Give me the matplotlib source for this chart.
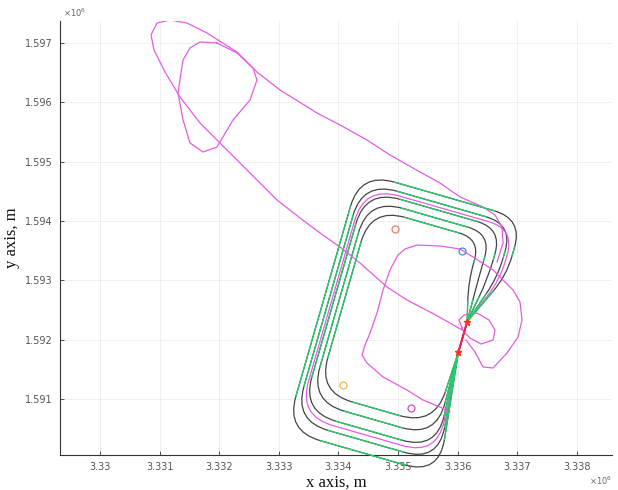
import numpy as np
import matplotlib
matplotlib.use('Agg')
import matplotlib.pyplot as plt
from matplotlib.path import Path
from matplotlib.patches import PathPatch

# ---------------- data (metres) ----------------
x_tick_values = [3330000, 3331000, 3332000, 3333000, 3334000, 3335000, 3336000, 3337000, 3338000]
x_tick_labels = ['3.33', '3.331', '3.332', '3.333', '3.334', '3.335', '3.336', '3.337', '3.338']
y_tick_values = [1591000, 1592000, 1593000, 1594000, 1595000, 1596000, 1597000]
y_tick_labels = ['1.591', '1.592', '1.593', '1.594', '1.595', '1.596', '1.597']

# gate (red segment) end points
gate_x = [3336161, 3336013]
gate_y = [1592305, 1591787]

# five nested holding loops: corner points (right-mid, top-right, top-left, bottom-left, bottom-right)
loop_rm_x = [3336819, 3336671, 3336508, 3336344, 3336180]
loop_rm_y = [1593080, 1593052, 1593029, 1593006, 1592983]
loop_tr_x = [3337092, 3336926, 3336748, 3336566, 3336384]
loop_tr_y = [1594036, 1593943, 1593872, 1593784, 1593696]
loop_tl_x = [3334367, 3334410, 3334459, 3334502, 3334546]
loop_tl_y = [1594822, 1594669, 1594533, 1594380, 1594227]
loop_bl_x = [3333121, 3333257, 3333389, 3333525, 3333657]
loop_bl_y = [1590464, 1590635, 1590790, 1590961, 1591116]
loop_br_x = [3335685, 3335676, 3335646, 3335637, 3335608]
loop_br_y = [1589724, 1589937, 1590138, 1590351, 1590553]

# magenta flown loop corners (same order)
track_loop_x = [3336710, 3336956, 3334440, 3333333, 3335655]
track_loop_y = [1593006, 1593865, 1594590, 1590718, 1590048]

# magenta track: long excursion to the north-west
track_a_x = [3336074, 3335873, 3335537, 3335151, 3334816, 3334363, 3334027, 3333692, 3333356,
             3332970, 3332685, 3332131, 3331678, 3331342, 3331091, 3330906, 3330856, 3330956,
             3331175, 3331460, 3331795, 3332299, 3332634, 3333020, 3333641, 3334027,
             3334480, 3334866, 3335370, 3335705, 3336041, 3336427, 3336628, 3336746, 3336763,
             3336662]
track_a_y = [1592163, 1592281, 1592467, 1592669, 1592888, 1593293, 1593563, 1593799, 1594052,
             1594355, 1594642, 1595198, 1595653, 1596092, 1596513, 1596884, 1597137, 1597339,
             1597390, 1597339, 1597171, 1596850, 1596513, 1596210, 1595822, 1595620,
             1595367, 1595114, 1594827, 1594642, 1594406, 1594237, 1594102, 1593900, 1593630,
             1593310]
# magenta track: inner tear-drop loop
track_b_x = [3331963, 3331678, 3331510, 3331393, 3331309, 3331393, 3331510, 3331728, 3331963,
             3332232, 3332517, 3332634, 3332567, 3332299, 3331963]
track_b_y = [1597002, 1597019, 1596918, 1596716, 1596159, 1595704, 1595316, 1595164, 1595249,
             1595704, 1596041, 1596378, 1596581, 1596834, 1597002]
# magenta track: inner rectangle and eastern bulge
track_c_x = [3335873, 3335705, 3335420, 3335151, 3334749, 3334480, 3334396, 3334447, 3334531,
             3334648, 3334749, 3334866, 3335000, 3335118, 3335319, 3335705, 3336041, 3336259,
             3336595, 3336930, 3337048, 3337081, 3337014, 3336829, 3336595, 3336427, 3336293,
             3336141]
track_c_y = [1590781, 1590865, 1590983, 1591152, 1591371, 1591607, 1591742, 1591910, 1592113,
             1592450, 1592838, 1593175, 1593428, 1593529, 1593596, 1593580, 1593529, 1593394,
             1593175, 1592838, 1592635, 1592332, 1592045, 1591776, 1591523, 1591540, 1591792,
             1591995]
# magenta track: small loop at the gate
track_d_x = [3336074, 3336024, 3336108, 3336326, 3336527, 3336628, 3336595, 3336393, 3336209,
             3336108, 3336074]
track_d_y = [1592197, 1592332, 1592416, 1592450, 1592332, 1592163, 1591995, 1591927, 1592028,
             1592130, 1592197]

# waypoint circles
wp_x = [3334950, 3336074, 3334078, 3335219]
wp_y = [1593866, 1593495, 1591236, 1590848]
wp_colors = ['#e8806a', '#3f8fe0', '#f0b84a', '#c84fc8']

# ---------------- style ----------------
BLACK = '#444444'
GREEN = '#21d06a'
MAGENTA = '#e45ce4'
CORNER_R = 600.0
BEND_R = 340.0


def rounded_loop(pts, radii):
    pts = np.asarray(pts, float)
    n = len(pts)
    a_pts, b_pts = [], []
    for i in range(n):
        p, prv, nxt = pts[i], pts[i - 1], pts[(i + 1) % n]
        din, dout = p - prv, nxt - p
        lin, lout = np.hypot(*din), np.hypot(*dout)
        c = min(radii[i], 0.5 * lin, 0.5 * lout)
        a_pts.append(p - c * din / lin)
        b_pts.append(p + c * dout / lout)
    verts = [pts[0]]
    codes = [Path.MOVETO]
    for i in range(1, n):
        verts.append(a_pts[i]); codes.append(Path.LINETO)
        if radii[i] > 0:
            verts += [pts[i], b_pts[i]]; codes += [Path.CURVE3, Path.CURVE3]
    verts.append(pts[0]); codes.append(Path.LINETO)
    straights = [(b_pts[i], a_pts[i + 1]) for i in range(n - 1)]
    return Path(verts, codes), straights


fig = plt.figure(figsize=(6.18, 4.90), dpi=100)
ax = fig.add_axes([60 / 618, 35 / 490, 552 / 618, 434 / 490])

radii = [0, BEND_R, CORNER_R, CORNER_R, CORNER_R, CORNER_R, 0]
all_straights = []
for k in range(len(loop_rm_x)):
    pts = [(gate_x[0], gate_y[0]), (loop_rm_x[k], loop_rm_y[k]), (loop_tr_x[k], loop_tr_y[k]),
           (loop_tl_x[k], loop_tl_y[k]), (loop_bl_x[k], loop_bl_y[k]), (loop_br_x[k], loop_br_y[k]),
           (gate_x[1], gate_y[1])]
    path, straights = rounded_loop(pts, radii)
    ax.add_patch(PathPatch(path, fill=False, edgecolor=BLACK, lw=0.9, clip_on=False, zorder=2))
    all_straights += straights

# magenta track
tpts = [(gate_x[0], gate_y[0])] + list(zip(track_loop_x, track_loop_y)) + [(gate_x[1], gate_y[1])]
tpath, _ = rounded_loop(tpts, radii)
ax.add_patch(PathPatch(tpath, fill=False, edgecolor=MAGENTA, lw=0.9, clip_on=False, zorder=3))
for tx, ty in [(track_a_x, track_a_y), (track_b_x, track_b_y),
               (track_c_x, track_c_y), (track_d_x, track_d_y)]:
    ax.plot(tx, ty, color=MAGENTA, lw=0.9, zorder=3)

# green straight legs
for (p, q) in all_straights:
    ax.plot([p[0], q[0]], [p[1], q[1]], color=GREEN, lw=0.9, zorder=4, clip_on=False)

# gate
ax.plot(gate_x, gate_y, color='#ff1a50', lw=1.4, zorder=5)
ax.plot(gate_x, gate_y, ls='none', marker='*', ms=5, color='#ff3020', zorder=6)

# waypoints
for x, y, c in zip(wp_x, wp_y, wp_colors):
    ax.plot([x], [y], ls='none', marker='o', ms=5, mfc='none', mec=c, mew=0.9, zorder=6)

ax.set_xlim(3329329, 3338591)
ax.set_ylim(1590056, 1597373)
ax.set_xticks(x_tick_values)
ax.set_xticklabels(x_tick_labels)
ax.set_yticks(y_tick_values)
ax.set_yticklabels(y_tick_labels)
ax.tick_params(direction='in', length=3, width=0.6, color='#333333',
               labelcolor='#555555', labelsize=7, pad=5)
ax.grid(True, color='#ececec', lw=0.6, zorder=0)
ax.set_axisbelow(True)
for s in ['top', 'right']:
    ax.spines[s].set_visible(False)
for s in ['left', 'bottom']:
    ax.spines[s].set_color('#333333')
    ax.spines[s].set_linewidth(0.8)

ax.set_xlabel('x axis, m', fontfamily='Liberation Serif', fontsize=12, labelpad=2, color='#111111')
ax.set_ylabel('y axis, m', fontfamily='Liberation Serif', fontsize=12, labelpad=4, color='#111111')

ax.text(0.005, 1.005, r'$\times10^{6}$', transform=ax.transAxes, ha='left', va='bottom',
        fontsize=6, color='#666666')
ax.text(1.0, -0.045, r'$\times10^{6}$', transform=ax.transAxes, ha='right', va='top',
        fontsize=6, color='#666666')

fig.savefig('out.png', dpi=100)
